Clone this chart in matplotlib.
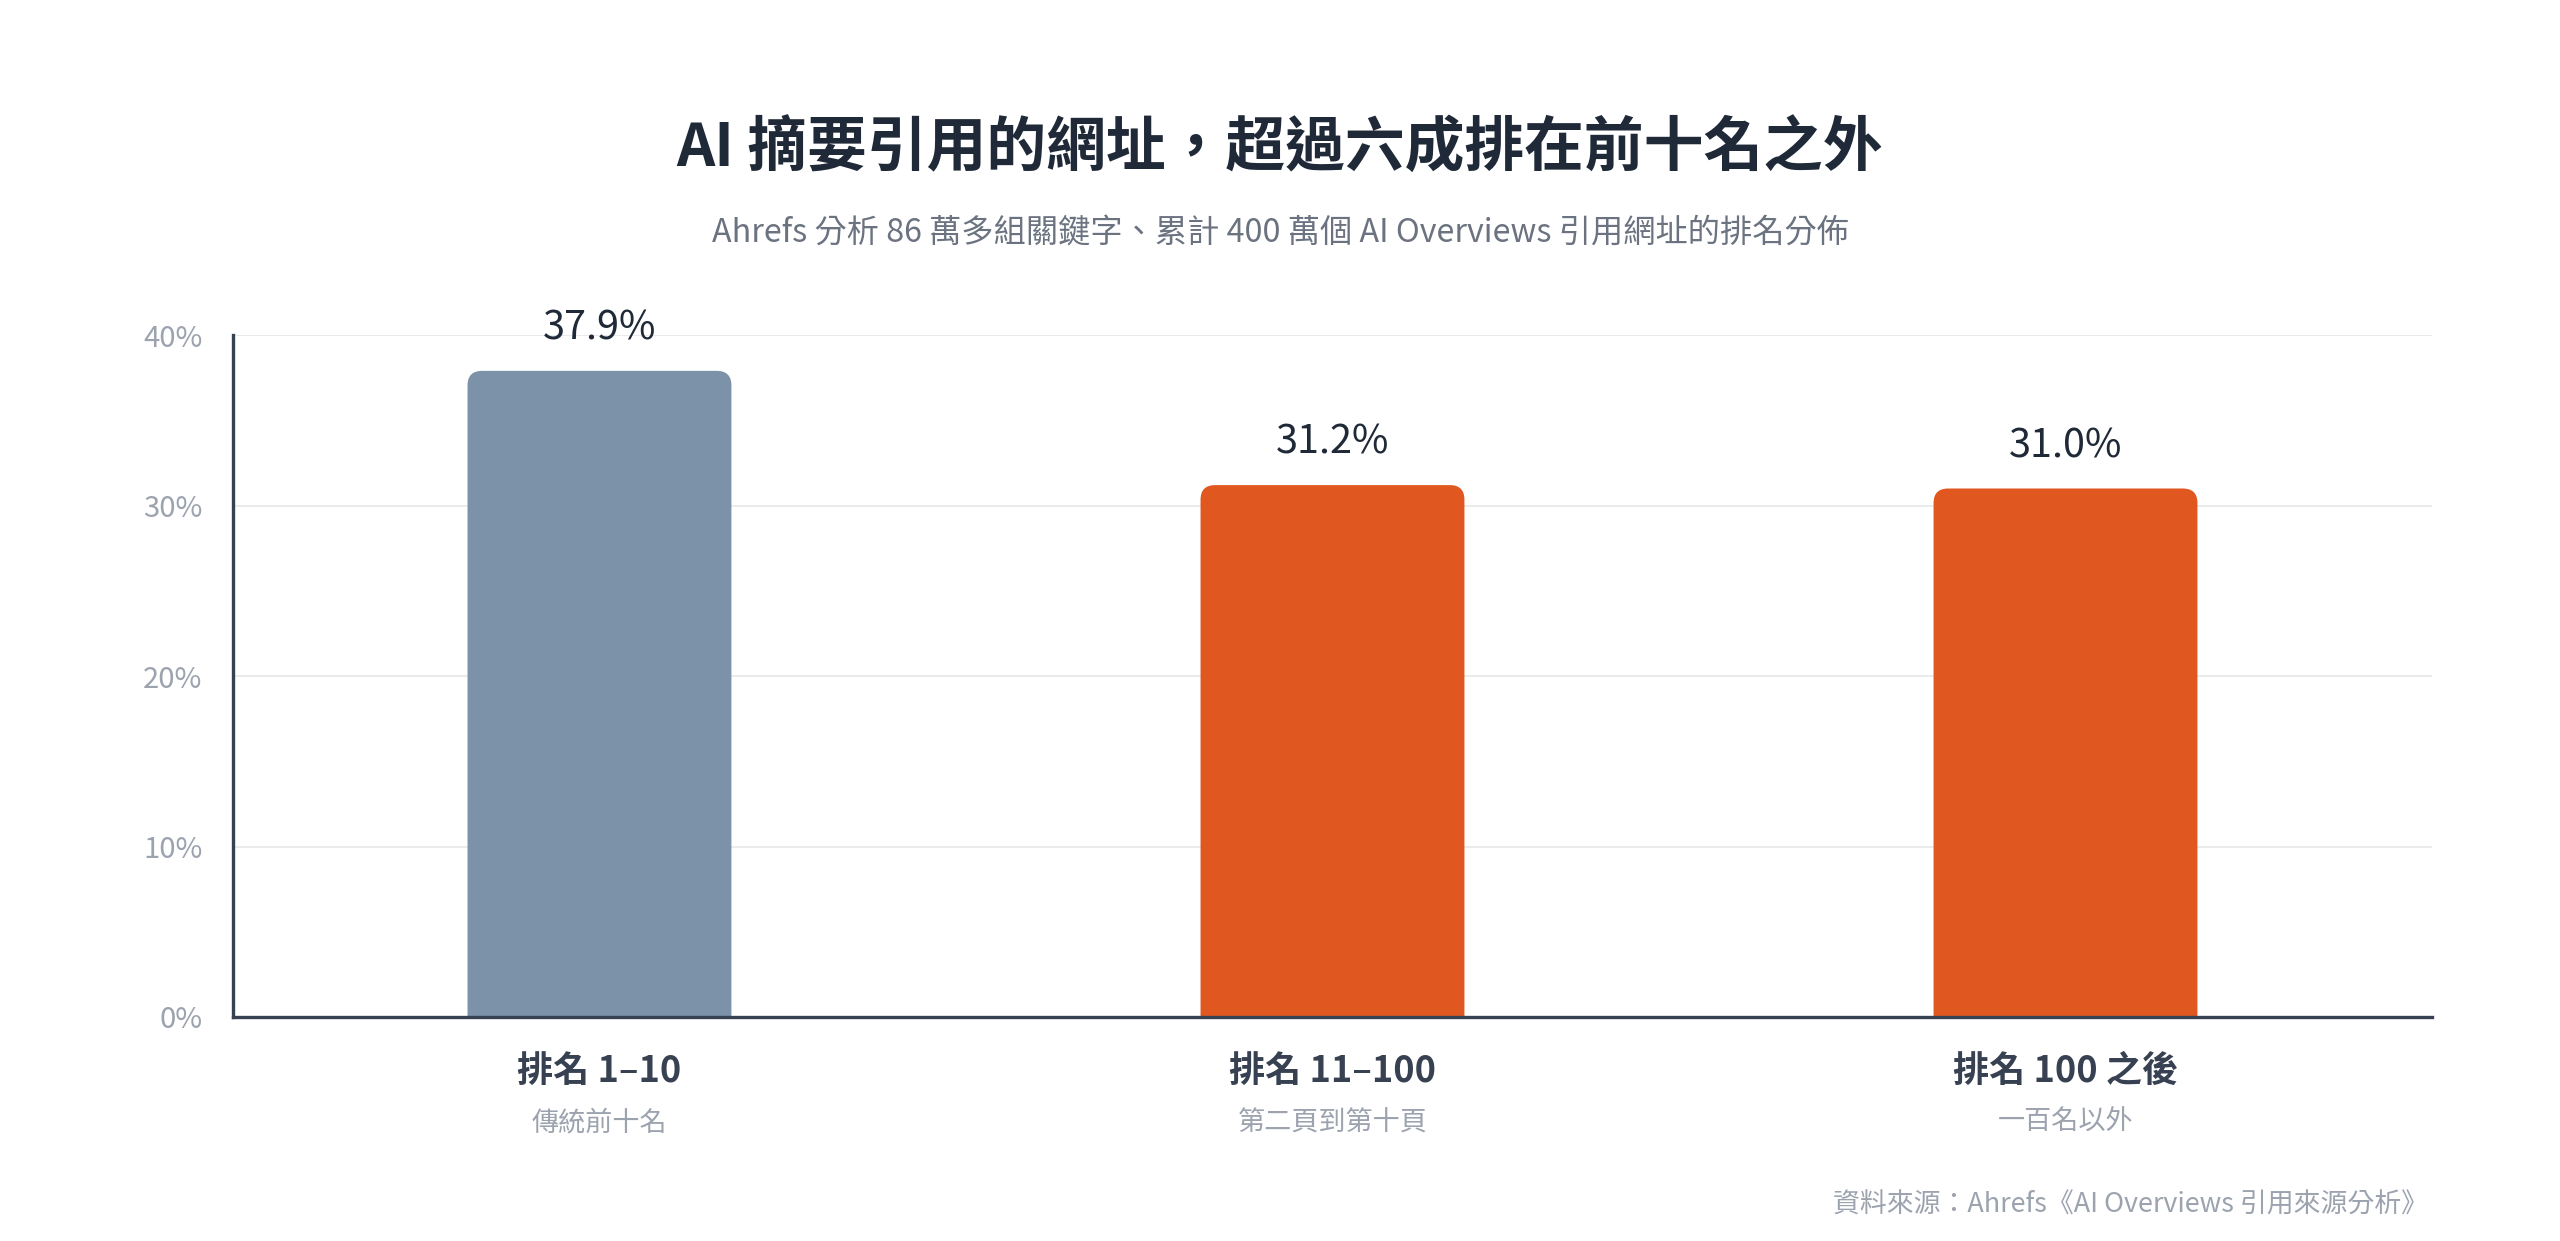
import matplotlib
matplotlib.use('Agg')
import matplotlib.pyplot as plt
from matplotlib.patches import FancyBboxPatch

plt.rcParams['font.family'] = ['Noto Sans CJK TC', 'DejaVu Sans']

categories = ['排名 1–10', '排名 11–100', '排名 100 之後']
sublabels = ['傳統前十名', '第二頁到第十頁', '一百名以外']
values = [37.9, 31.2, 31.0]
colors = ['#7b92a8', '#e0581f', '#e0581f']
yticks = [0, 10, 20, 30, 40]

title = 'AI 摘要引用的網址，超過六成排在前十名之外'
subtitle = 'Ahrefs 分析 86 萬多組關鍵字、累計 400 萬個 AI Overviews 引用網址的排名分佈'
source = '資料來源：Ahrefs《AI Overviews 引用來源分析》'

dark = '#1f2937'
axis_col = '#374151'
light = '#9ca3af'

fig = plt.figure(figsize=(25.6, 12.41), dpi=100)
ax = fig.add_axes([0.091, 0.1805, 0.859, 0.5495])

x = list(range(len(categories)))
width = 0.36
bars = ax.bar(x, values, width=width, color='none', edgecolor='none')

# rounded top corners: draw a rounded box extending below zero, clipped by axes
rx = 0.02
ry = 0.85
for b, c in zip(bars, colors):
    x0 = b.get_x()
    h = b.get_height()
    p = FancyBboxPatch((x0, -3), b.get_width(), h + 3,
                       boxstyle='round,pad=0,rounding_size=%f' % rx,
                       mutation_aspect=ry / rx, facecolor=c, edgecolor='none',
                       zorder=2)
    ax.add_patch(p)
    ax.text(b.get_x() + b.get_width() / 2, h + 1.3, '%.1f%%' % h,
            ha='center', va='bottom', fontsize=28.5, fontweight='medium',
            color=dark, zorder=4)

ax.set_xlim(-0.5, 2.5)
ax.set_ylim(0, 40)
ax.set_yticks(yticks)
ax.set_yticklabels(['%d%%' % t for t in yticks], fontsize=21, color=light)
ax.tick_params(axis='y', length=0, pad=22)
ax.set_xticks(x)
ax.set_xticklabels([])
ax.tick_params(axis='x', length=0)

ax.grid(axis='y', color='#e8e9ec', linewidth=1.3, zorder=0)
ax.set_axisbelow(True)
for s in ['top', 'right']:
    ax.spines[s].set_visible(False)
for s in ['left', 'bottom']:
    ax.spines[s].set_color(axis_col)
    ax.spines[s].set_linewidth(2.4)
    ax.spines[s].set_zorder(5)

for xi, cat, sub in zip(x, categories, sublabels):
    ax.text(xi, -3.2, cat, ha='center', va='center', fontsize=26,
            fontweight='bold', color=axis_col, transform=ax.transData)
    ax.text(xi, -6.2, sub, ha='center', va='center', fontsize=19.5,
            color=light, transform=ax.transData)

fig.text(0.5, 1 - 150 / 1241, title, ha='center', va='center',
         fontsize=43, fontweight='bold', color=dark)
fig.text(0.5, 1 - 233 / 1241, subtitle, ha='center', va='center',
         fontsize=23.2, color='#6b7280')
fig.text(2428 / 2560, 1 - 1205 / 1241, source, ha='right', va='center',
         fontsize=19.4, color=light)

fig.savefig('out.png', dpi=100, facecolor='white')
